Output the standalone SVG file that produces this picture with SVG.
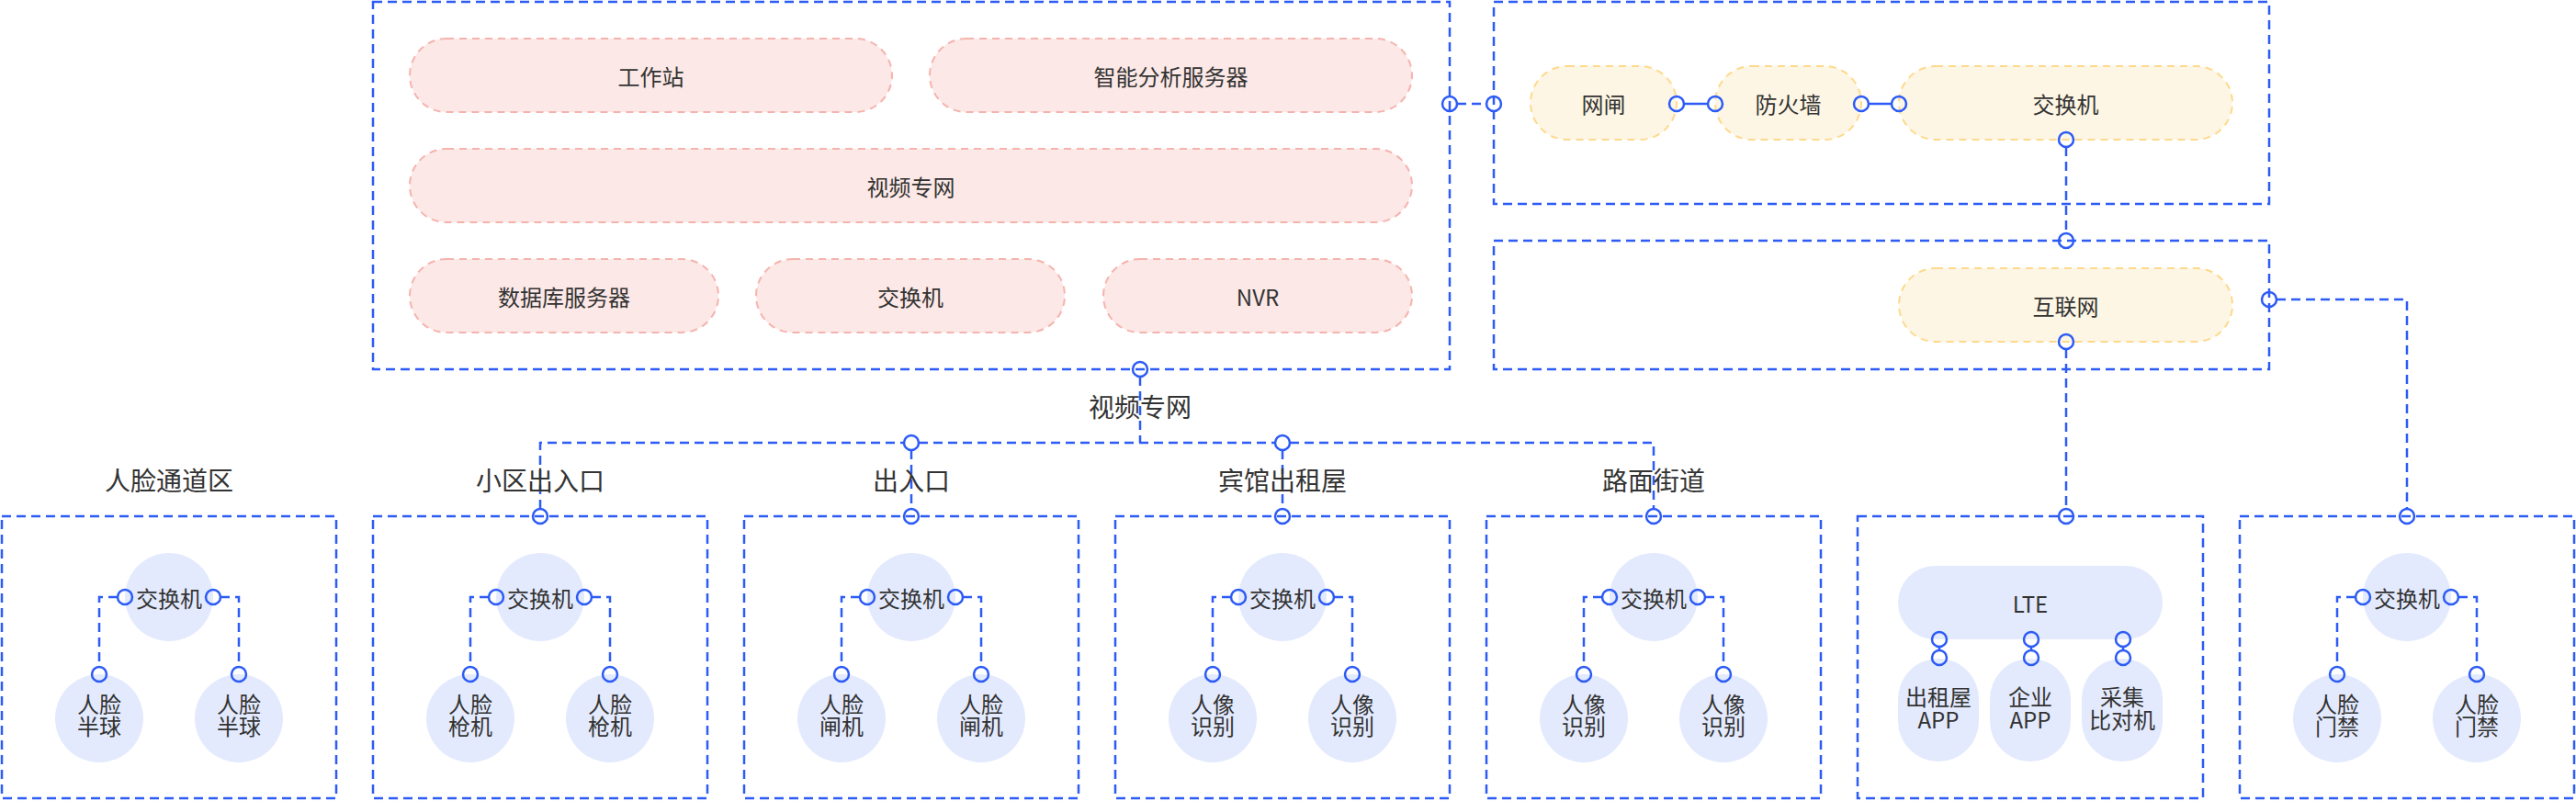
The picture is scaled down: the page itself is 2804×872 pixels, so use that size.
<svg xmlns="http://www.w3.org/2000/svg" width="2804" height="872" viewBox="0 0 2804 872">
<style>
text{font-family:"Noto Sans CJK SC","Noto Sans",sans-serif;fill:#333333;text-anchor:middle;dominant-baseline:central}
tspan{dominant-baseline:central}
.t24{font-size:24px}
.t28{font-size:28px}
.frame{fill:none;stroke:#2c5bf6;stroke-width:2.5;stroke-dasharray:10 6}
.pink{fill:#fce8e6;stroke:#f5b3ad;stroke-width:2;stroke-dasharray:8 6}
.yel{fill:#fef6e4;stroke:#fdd98c;stroke-width:2;stroke-dasharray:8 6}
.lav{fill:#e3eafd}
.dl{fill:none;stroke:#2c5bf6;stroke-width:2.5;stroke-dasharray:10 6}
.sl{fill:none;stroke:#2c5bf6;stroke-width:2.5}
.port{fill:none;stroke:#2c5bf6;stroke-width:2.5}
</style>
<rect width="2804" height="872" fill="#ffffff"/>

<!-- frames -->
<g id="frames">
<rect id="frame-video" class="frame" x="406" y="2" width="1172" height="400"/>
<rect id="frame-gate" class="frame" x="1626" y="2" width="844" height="220"/>
<rect id="frame-internet" class="frame" x="1626" y="262" width="844" height="140"/>
<rect id="frame-b1" class="frame" x="2" y="562" width="364" height="307"/>
<rect id="frame-b2" class="frame" x="406" y="562" width="364" height="307"/>
<rect id="frame-b3" class="frame" x="810" y="562" width="364" height="307"/>
<rect id="frame-b4" class="frame" x="1214" y="562" width="364" height="307"/>
<rect id="frame-b5" class="frame" x="1618" y="562" width="364" height="307"/>
<rect id="frame-b6" class="frame" x="2022" y="562" width="376" height="307"/>
<rect id="frame-b7" class="frame" x="2438" y="562" width="364" height="307"/>
</g>

<!-- connectors -->
<g id="connectors">
<path class="dl" d="M1586 113 H1618"/>
<path class="sl" d="M1833 113 H1859"/>
<path class="sl" d="M2034 113 H2059"/>
<path class="dl" d="M2249 160 V254"/>
<path class="dl" d="M2249 380 V554"/>
<path class="dl" d="M2478 326 H2620 V554"/>
<path class="dl" d="M1241 410 V482"/>
<path class="dl" d="M588 554 V482 H984 M1000 482 H1388 M1404 482 H1800 V554"/>
<path class="dl" d="M992 490 V554"/>
<path class="dl" d="M1396 490 V554"/>
<path class="sl" d="M2111 704 V708 M2211 704 V708 M2311 704 V708"/>
<path class="dl" d="M128 650 H108 V726 M240 650 H260 V726"/>
<path class="dl" d="M532 650 H512 V726 M644 650 H664 V726"/>
<path class="dl" d="M936 650 H916 V726 M1048 650 H1068 V726"/>
<path class="dl" d="M1340 650 H1320 V726 M1452 650 H1472 V726"/>
<path class="dl" d="M1744 650 H1724 V726 M1856 650 H1876 V726"/>
<path class="dl" d="M2564 650 H2544 V726 M2676 650 H2696 V726"/>
</g>

<!-- top-left nodes -->
<g id="n-workstation"><rect class="pink" x="446" y="42" width="525" height="80" rx="40"/><text class="t24" x="708.5" y="82">工作站</text></g>
<g id="n-analysis"><rect class="pink" x="1012" y="42" width="525" height="80" rx="40"/><text class="t24" x="1274.5" y="82">智能分析服务器</text></g>
<g id="n-videonet"><rect class="pink" x="446" y="162" width="1091" height="80" rx="40"/><text class="t24" x="991.5" y="202">视频专网</text></g>
<g id="n-db"><rect class="pink" x="446" y="282" width="336" height="80" rx="40"/><text class="t24" x="614" y="322">数据库服务器</text></g>
<g id="n-switch-core"><rect class="pink" x="823" y="282" width="336" height="80" rx="40"/><text class="t24" x="991" y="322">交换机</text></g>
<g id="n-nvr"><rect class="pink" x="1201" y="282" width="336" height="80" rx="40"/><text class="t24" x="1369" y="322">NVR</text></g>

<!-- top-right nodes -->
<g id="n-gap"><rect class="yel" x="1666" y="72" width="159" height="80" rx="40"/><text class="t24" x="1745.5" y="112">网闸</text></g>
<g id="n-firewall"><rect class="yel" x="1867" y="72" width="159" height="80" rx="40"/><text class="t24" x="1946.5" y="112">防火墙</text></g>
<g id="n-switch-gw"><rect class="yel" x="2067" y="72" width="363" height="80" rx="40"/><text class="t24" x="2248.5" y="112">交换机</text></g>
<g id="n-internet"><rect class="yel" x="2067" y="292" width="363" height="80" rx="40"/><text class="t24" x="2248.5" y="332">互联网</text></g>

<!-- labels -->
<g id="labels">
<text class="t28" x="1241" y="442">视频专网</text>
<text class="t28" x="184" y="522">人脸通道区</text>
<text class="t28" x="588" y="522">小区出入口</text>
<text class="t28" x="992" y="522">出入口</text>
<text class="t28" x="1396" y="522">宾馆出租屋</text>
<text class="t28" x="1800" y="522">路面街道</text>
</g>

<!-- bottom box nodes -->
<g id="b1">
<circle class="lav" cx="184" cy="650" r="48"/><text class="t24" x="184" y="650">交换机</text>
<circle class="lav" cx="108" cy="782" r="48"/><text class="t24"><tspan x="108" y="765">人脸</tspan><tspan x="108" y="789">半球</tspan></text>
<circle class="lav" cx="260" cy="782" r="48"/><text class="t24"><tspan x="260" y="765">人脸</tspan><tspan x="260" y="789">半球</tspan></text>
</g>
<g id="b2">
<circle class="lav" cx="588" cy="650" r="48"/><text class="t24" x="588" y="650">交换机</text>
<circle class="lav" cx="512" cy="782" r="48"/><text class="t24"><tspan x="512" y="765">人脸</tspan><tspan x="512" y="789">枪机</tspan></text>
<circle class="lav" cx="664" cy="782" r="48"/><text class="t24"><tspan x="664" y="765">人脸</tspan><tspan x="664" y="789">枪机</tspan></text>
</g>
<g id="b3">
<circle class="lav" cx="992" cy="650" r="48"/><text class="t24" x="992" y="650">交换机</text>
<circle class="lav" cx="916" cy="782" r="48"/><text class="t24"><tspan x="916" y="765">人脸</tspan><tspan x="916" y="789">闸机</tspan></text>
<circle class="lav" cx="1068" cy="782" r="48"/><text class="t24"><tspan x="1068" y="765">人脸</tspan><tspan x="1068" y="789">闸机</tspan></text>
</g>
<g id="b4">
<circle class="lav" cx="1396" cy="650" r="48"/><text class="t24" x="1396" y="650">交换机</text>
<circle class="lav" cx="1320" cy="782" r="48"/><text class="t24"><tspan x="1320" y="765">人像</tspan><tspan x="1320" y="789">识别</tspan></text>
<circle class="lav" cx="1472" cy="782" r="48"/><text class="t24"><tspan x="1472" y="765">人像</tspan><tspan x="1472" y="789">识别</tspan></text>
</g>
<g id="b5">
<circle class="lav" cx="1800" cy="650" r="48"/><text class="t24" x="1800" y="650">交换机</text>
<circle class="lav" cx="1724" cy="782" r="48"/><text class="t24"><tspan x="1724" y="765">人像</tspan><tspan x="1724" y="789">识别</tspan></text>
<circle class="lav" cx="1876" cy="782" r="48"/><text class="t24"><tspan x="1876" y="765">人像</tspan><tspan x="1876" y="789">识别</tspan></text>
</g>
<g id="b6">
<rect class="lav" x="2066" y="616" width="288" height="80" rx="40"/><text class="t24" x="2210" y="656">LTE</text>
<rect class="lav" x="2066" y="717" width="88" height="112" rx="44"/><text class="t24"><tspan x="2110" y="757">出租屋</tspan><tspan x="2110" y="782">APP</tspan></text>
<rect class="lav" x="2166" y="717" width="88" height="112" rx="44"/><text class="t24"><tspan x="2210" y="757">企业</tspan><tspan x="2210" y="782">APP</tspan></text>
<rect class="lav" x="2266" y="717" width="88" height="112" rx="44"/><text class="t24"><tspan x="2310" y="757">采集</tspan><tspan x="2310" y="782">比对机</tspan></text>
</g>
<g id="b7">
<circle class="lav" cx="2620" cy="650" r="48"/><text class="t24" x="2620" y="650">交换机</text>
<circle class="lav" cx="2544" cy="782" r="48"/><text class="t24"><tspan x="2544" y="765">人脸</tspan><tspan x="2544" y="789">门禁</tspan></text>
<circle class="lav" cx="2696" cy="782" r="48"/><text class="t24"><tspan x="2696" y="765">人脸</tspan><tspan x="2696" y="789">门禁</tspan></text>
</g>

<!-- ports -->
<g id="ports">
<circle class="port" cx="1578" cy="113" r="8"/>
<circle class="port" cx="1626" cy="113" r="8"/>
<circle class="port" cx="1825" cy="113" r="8"/>
<circle class="port" cx="1867" cy="113" r="8"/>
<circle class="port" cx="2026" cy="113" r="8"/>
<circle class="port" cx="2067" cy="113" r="8"/>
<circle class="port" cx="2249" cy="152" r="8"/>
<circle class="port" cx="2249" cy="262" r="8"/>
<circle class="port" cx="2249" cy="372" r="8"/>
<circle class="port" cx="2470" cy="326" r="8"/>
<circle class="port" cx="1241" cy="402" r="8"/>
<circle class="port" cx="992" cy="482" r="8"/>
<circle class="port" cx="1396" cy="482" r="8"/>
<circle class="port" cx="588" cy="562" r="8"/>
<circle class="port" cx="992" cy="562" r="8"/>
<circle class="port" cx="1396" cy="562" r="8"/>
<circle class="port" cx="1800" cy="562" r="8"/>
<circle class="port" cx="2249" cy="562" r="8"/>
<circle class="port" cx="2620" cy="562" r="8"/>
<circle class="port" cx="2111" cy="696" r="8"/><circle class="port" cx="2111" cy="716" r="8"/>
<circle class="port" cx="2211" cy="696" r="8"/><circle class="port" cx="2211" cy="716" r="8"/>
<circle class="port" cx="2311" cy="696" r="8"/><circle class="port" cx="2311" cy="716" r="8"/>
<circle class="port" cx="136" cy="650" r="8"/><circle class="port" cx="232" cy="650" r="8"/><circle class="port" cx="108" cy="734" r="8"/><circle class="port" cx="260" cy="734" r="8"/>
<circle class="port" cx="540" cy="650" r="8"/><circle class="port" cx="636" cy="650" r="8"/><circle class="port" cx="512" cy="734" r="8"/><circle class="port" cx="664" cy="734" r="8"/>
<circle class="port" cx="944" cy="650" r="8"/><circle class="port" cx="1040" cy="650" r="8"/><circle class="port" cx="916" cy="734" r="8"/><circle class="port" cx="1068" cy="734" r="8"/>
<circle class="port" cx="1348" cy="650" r="8"/><circle class="port" cx="1444" cy="650" r="8"/><circle class="port" cx="1320" cy="734" r="8"/><circle class="port" cx="1472" cy="734" r="8"/>
<circle class="port" cx="1752" cy="650" r="8"/><circle class="port" cx="1848" cy="650" r="8"/><circle class="port" cx="1724" cy="734" r="8"/><circle class="port" cx="1876" cy="734" r="8"/>
<circle class="port" cx="2572" cy="650" r="8"/><circle class="port" cx="2668" cy="650" r="8"/><circle class="port" cx="2544" cy="734" r="8"/><circle class="port" cx="2696" cy="734" r="8"/>
</g>
</svg>
